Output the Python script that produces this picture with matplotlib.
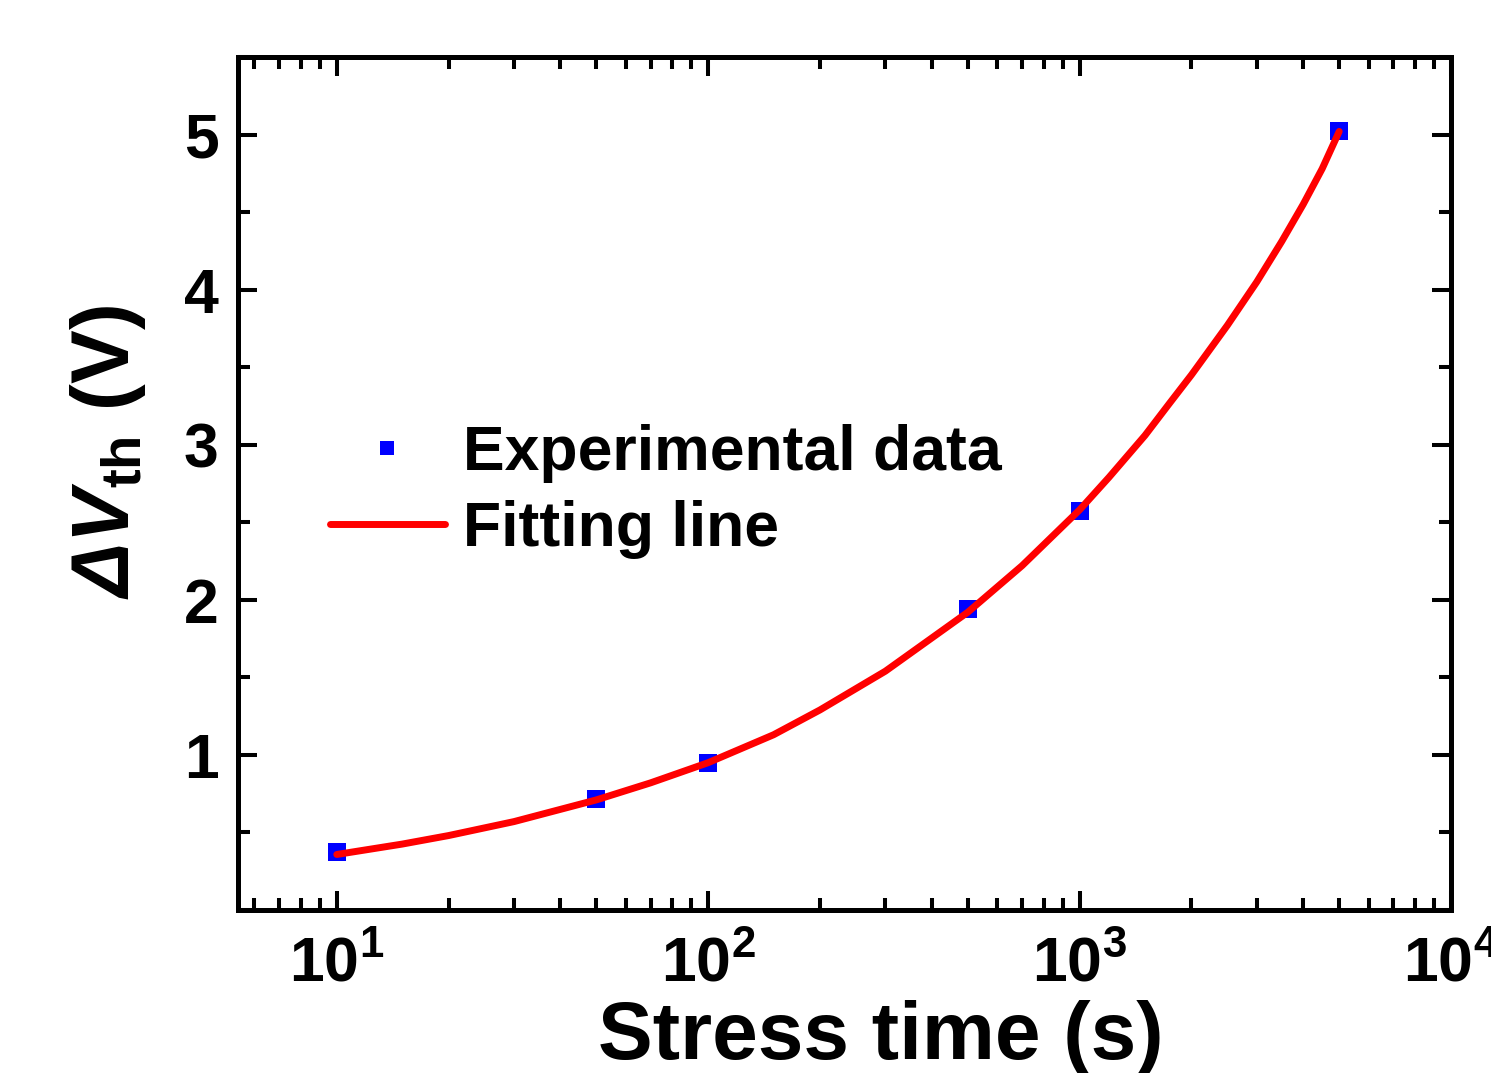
import matplotlib
matplotlib.use('Agg')
import matplotlib.pyplot as plt
from matplotlib.ticker import FixedLocator, LogLocator, MultipleLocator, NullFormatter

plt.rcParams['font.family'] = ['Liberation Sans', 'DejaVu Sans']
plt.rcParams['font.weight'] = 'bold'
plt.rcParams['mathtext.fontset'] = 'custom'
plt.rcParams['mathtext.rm'] = 'Liberation Sans:italic'   # only the Delta uses rm
plt.rcParams['mathtext.bf'] = 'Liberation Sans:bold'
plt.rcParams['mathtext.it'] = 'Liberation Sans:italic'
plt.rcParams['mathtext.bfit'] = 'Liberation Sans:italic:bold'

# measured points
stress_time = [10, 50, 100, 500, 1000, 5000]
delta_vth = [0.377, 0.717, 0.951, 1.939, 2.573, 5.025]

# fitting line
fit_time = [10, 15, 20, 30, 50, 70, 100, 150, 200, 300, 500, 700,
            1000, 1200, 1500, 1750, 2000, 2500, 3000, 3500, 4000, 4500, 5000]
fit_vth = [0.358, 0.425, 0.48, 0.57, 0.71, 0.82, 0.95, 1.13, 1.29, 1.54,
           1.92, 2.22, 2.58, 2.79, 3.06, 3.27, 3.45, 3.77, 4.05, 4.31,
           4.55, 4.78, 5.02]

xtick_vals = [10, 100, 1000, 10000]
xtick_labels = [r'$\mathbf{10^{1}}$', r'$\mathbf{10^{2}}$',
                r'$\mathbf{10^{3}}$', r'$\mathbf{10^{4}}$']
ytick_vals = [1, 2, 3, 4, 5]

fig = plt.figure(figsize=(14.91, 10.73), dpi=100)
ax = fig.add_axes([238 / 1491, 1 - 910 / 1073, (1451 - 238) / 1491, (910 - 57) / 1073])

ax.plot(fit_time, fit_vth, color='#ff0000', lw=5, solid_capstyle='round',
        solid_joinstyle='round', label='Fitting line', zorder=3)
ax.plot(stress_time, delta_vth, 's', color='#0000ff', ms=13.5, mew=0,
        label='Experimental data', zorder=2)

ax.set_xscale('log')
ax.set_xlim(5.42, 10000)
ax.set_ylim(0, 5.5)

ax.xaxis.set_major_locator(FixedLocator(xtick_vals))
ax.set_xticklabels(xtick_labels)
ax.xaxis.set_minor_locator(LogLocator(base=10, subs=range(2, 10)))
ax.xaxis.set_minor_formatter(NullFormatter())
ax.set_yticks(ytick_vals)
ax.yaxis.set_minor_locator(MultipleLocator(0.5))

for s in ax.spines.values():
    s.set_linewidth(3.6)
ax.tick_params(which='both', direction='in', top=True, right=True, width=2.9)
ax.tick_params(which='major', length=14, labelsize=45)
ax.tick_params(axis='x', which='major', pad=18)
ax.tick_params(axis='y', which='major', pad=14)
ax.tick_params(which='minor', length=8.5)
for lab in ax.get_yticklabels():
    lab.set_fontweight('bold')

ax.set_xlabel('Stress time (s)', fontsize=59, fontweight='bold')
ax.xaxis.set_label_coords(0.530, -0.105)
ax.set_ylabel(r'$\Delta\mathbfit{V}_{\mathbf{th}}$ (V)', fontsize=58, fontweight='bold')
ax.yaxis.set_label_coords(-0.074, 0.537)

handles, labels = ax.get_legend_handles_labels()
ax.legend(handles[::-1], labels[::-1], loc='upper left', bbox_to_anchor=(0.0758, 0.570),
          frameon=False, borderpad=0, borderaxespad=0, handlelength=1.84,
          handletextpad=0.29, labelspacing=0.28, markerscale=0.74,
          prop={'size': 45, 'weight': 'bold'})

fig.savefig('out.png', dpi=100)
